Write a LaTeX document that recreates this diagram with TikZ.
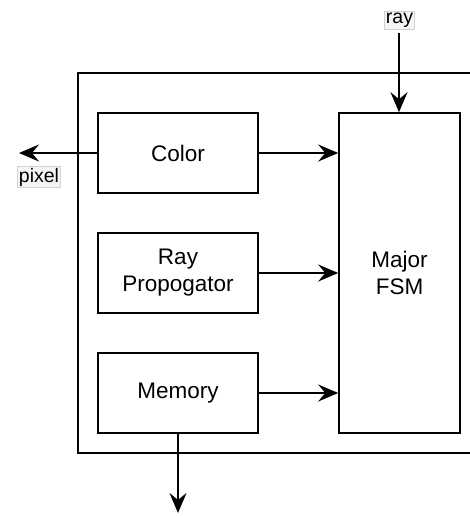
\documentclass[tikz,border=0pt]{standalone}
\usepackage{fontspec}
\setmainfont{Liberation Sans}
\usetikzlibrary{arrows.meta}
\begin{document}
\begin{tikzpicture}[x=1pt,y=-1pt,
    blocco/.style={draw,line width=1.6pt,minimum width=160pt,minimum height=80pt,
      font=\fontsize{22.5}{27}\selectfont,align=center},
    etichetta/.style={draw=gray!35,fill=gray!8,inner sep=1.5pt,
      font=\fontsize{19.5}{22}\selectfont},
    filo/.style={-{Stealth[length=20pt,width=17pt,inset=7pt]},line width=1.6pt}]
    \useasboundingbox (0,0) rectangle (470,516);
    % Cornice
    \draw[line width=1.6pt] (472,73) -- (78,73) -- (78,453) -- (472,453);
    % Blocchi
    \node[blocco] (color) at (178,153) {Color};
    \node[blocco] (prop) at (178,273) {Ray\\Propogator};
    \node[blocco] (mem) at (178,393) {Memory};
    \node[blocco,minimum width=121pt,minimum height=320pt] (fsm) at (399.5,273) {Major\\FSM};
    % Ingressi e uscite
    \coordinate (rayin) at (399,33);
    \coordinate (pixout) at (19,153);
    \coordinate (memout) at (178,513);
    \node[etichetta,anchor=south] (ray) at (399.5,29) {ray};
    \node[etichetta] (pixel) at (39,177) {pixel};
    % Frecce
    \draw[filo] (rayin) -- (rayin |- fsm.north);
    \draw[filo] (color.west) -- (pixout);
    \draw[filo] (mem.south) -- (memout);
    \draw[filo] (color.east) -- (fsm.west |- color.east);
    \draw[filo] (prop.east) -- (fsm.west |- prop.east);
    \draw[filo] (mem.east) -- (fsm.west |- mem.east);
\end{tikzpicture}
\end{document}
